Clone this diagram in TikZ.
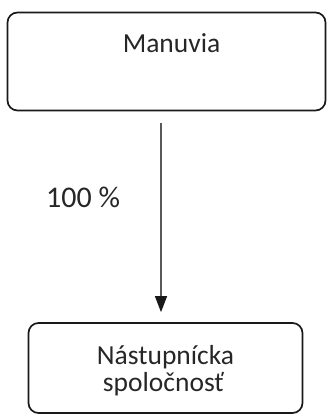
\documentclass[tikz,border=0pt]{standalone}
\usepackage{fontspec}
\setmainfont{Carlito}
\usetikzlibrary{arrows.meta}
\begin{document}
\begin{tikzpicture}[x=1pt,y=-1pt,
  box/.style={draw=black!90, line width=1.7pt, rounded corners=10pt, inner sep=0pt},
  lbl/.style={anchor=base, text=black!85, inner sep=0pt},
  conn/.style={draw=black!65, line width=1.1pt, -{Triangle[width=12pt,length=16pt,black!90]}, shorten <=12pt, shorten >=10pt}]
  \useasboundingbox (0,0) rectangle (327,414);
  \node[box, minimum width=318pt, minimum height=98pt] (top) at (166.5,61.5) {};
  \node[box, minimum width=274pt, minimum height=90pt] (bot) at (165.5,368) {};
  \node[lbl, font=\fontsize{27.5}{28}\selectfont] (tt) at (171.5,52.5) {Manuvia};
  \node[lbl, font=\fontsize{27.5}{28}\selectfont] (b1) at (165.5,364) {Nástupnícka};
  \node[lbl, font=\fontsize{27.5}{28}\selectfont] (b2) at (163.5,391) {spoločnosť};
  \node[lbl, anchor=base west, font=\fontsize{30}{32}\selectfont] (pct) at (46,207) {100 \%};
  \coordinate (ax) at (161,0);
  \draw[conn] (top.south -| ax) -- (bot.north -| ax);
\end{tikzpicture}
\end{document}
